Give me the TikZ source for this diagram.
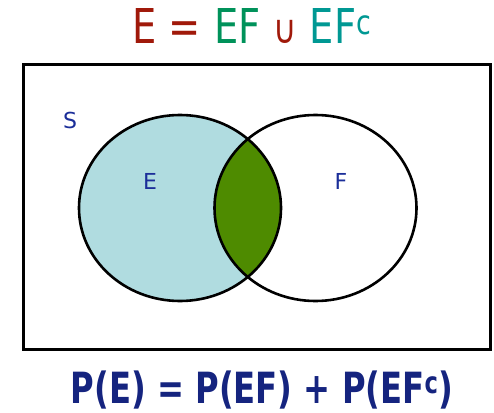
\documentclass[tikz,border=0pt]{standalone}
\usepackage{fontspec}
\setmainfont{DejaVu Sans}
\newfontfamily\titlefont[FakeStretch=0.8]{DejaVu Sans}
\newfontfamily\formfont[FakeStretch=0.75]{DejaVu Sans}
\definecolor{tred}{HTML}{A0190A}
\definecolor{tgreen}{HTML}{00925A}
\definecolor{tteal}{HTML}{009893}
\definecolor{navy}{HTML}{15247F}
\definecolor{lblue}{HTML}{B0DCE0}
\definecolor{igreen}{HTML}{4E8B00}
\definecolor{lab}{HTML}{1B2E99}
\tikzset{
  setline/.style={draw=black, line width=2.6pt},
  setlabel/.style={text=lab, font=\fontsize{22}{22}\selectfont, inner sep=0pt},
}
\begin{document}
\begin{tikzpicture}[x=1pt,y=-1pt]
\useasboundingbox (0,0) rectangle (494,412);
% universe
\node[setline, minimum width=467pt, minimum height=285pt, inner sep=0pt, anchor=north west] (S) at (22,63) {};
% E filled
\fill[lblue] (180,208) ellipse [x radius=101, y radius=93];
% intersection
\begin{scope}
  \clip (180,208) ellipse [x radius=101, y radius=93];
  \fill[igreen] (315.5,208) ellipse [x radius=101, y radius=93];
\end{scope}
\draw[setline] (180,208) ellipse [x radius=101, y radius=93];
\draw[setline] (315.5,208) ellipse [x radius=101, y radius=93];
\node[setlabel] (ls) at (70,120) {S};
\node[setlabel] (le) at (150,181) {E};
\node[setlabel] (lf) at (341,181) {F};
% title
\node[inner sep=0pt, anchor=base, font=\titlefont\fontsize{48}{48}\selectfont] (title) at (252,44)
  {\textcolor{tred}{E\hspace{12pt}=}\hspace{13pt}\textcolor{tgreen}{EF}\hspace{13pt}\textcolor{tred}{\fontsize{40}{40}\selectfont ∪}\hspace{13pt}\textcolor{tteal}{EF\textsuperscript{c}}};
% bottom formula
\node[inner sep=0pt, anchor=base, text=navy, font=\formfont\bfseries\fontsize{43}{43}\selectfont] (formula) at (262,403)
  {P(E) = P(EF) + P(EF\textsuperscript{c})};
\end{tikzpicture}
\end{document}
